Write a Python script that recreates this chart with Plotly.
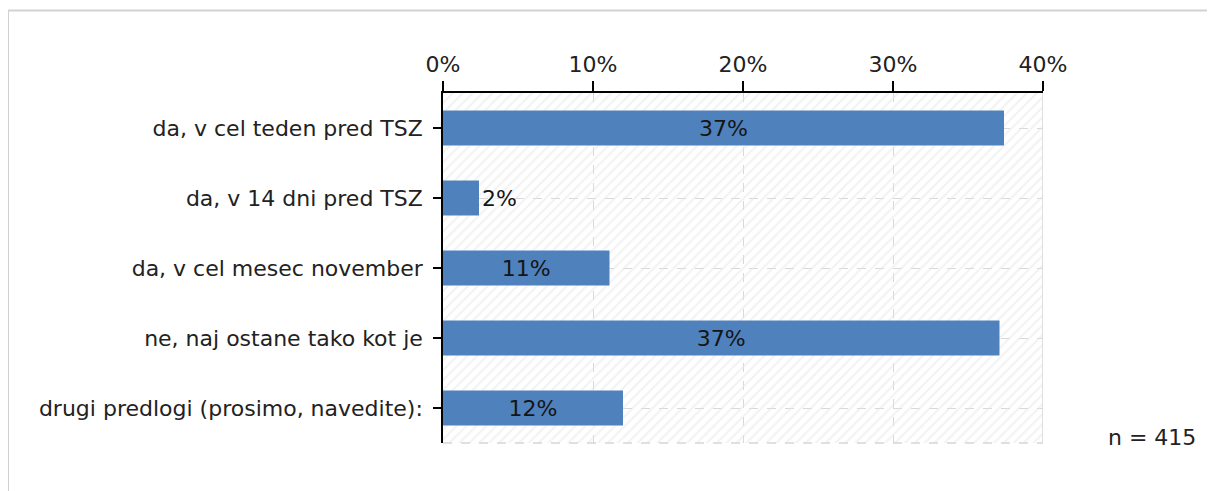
import plotly.graph_objects as go

categories = [
    "da, v cel teden pred TSZ",
    "da, v 14 dni pred TSZ",
    "da, v cel mesec november",
    "ne, naj ostane tako kot je",
    "drugi predlogi (prosimo, navedite):",
]
values = [37.4, 2.4, 11.1, 37.1, 12.0]
value_labels = ["37%", "2%", "11%", "37%", "12%"]
label_positions = ["inside", "outside", "inside", "inside", "inside"]
x_ticks = [0, 10, 20, 30, 40]
x_tick_labels = ["0%", "10%", "20%", "30%", "40%"]
n_text = "n = 415"
x_max = 40

FONT = "DejaVu Sans"
FS = 22
W, H = 1215, 491
OFF = 8  # page body margin offset
# target page coordinates of plot area: x 443..1043, y 93..443
L = 443 - OFF
T = 93 - OFF
R = W - (1043 - OFF)
B = H - (443 - OFF)
pw, ph = W - L - R, H - T - B

def px_x(p):
    return (p - OFF - L) / pw

def px_y(p):
    return (H - B - (p - OFF)) / ph

fig = go.Figure()

# hatched plot background
fig.add_trace(go.Bar(
    x=[x_max] * len(categories), y=categories, orientation="h", width=1,
    marker=dict(color="rgba(0,0,0,0)", line=dict(width=0),
                pattern=dict(shape="/", fgcolor="#e6e6e6", bgcolor="rgba(0,0,0,0)",
                             size=7, solidity=0.3)),
    hoverinfo="skip", showlegend=False,
))

fig.add_trace(go.Bar(
    x=values, y=categories, orientation="h", width=0.5,
    marker=dict(color="#4F81BD", line=dict(width=0)),
    text=value_labels, textposition=label_positions,
    insidetextanchor="middle", constraintext="none",
    textfont=dict(family=FONT, size=FS, color="#151515"),
    cliponaxis=False, showlegend=False,
))

fig.update_layout(
    width=W, height=H,
    margin=dict(l=L, r=R, t=T, b=B),
    paper_bgcolor="white", plot_bgcolor="white",
    barmode="overlay",
    font=dict(family=FONT, size=FS, color="#222222"),
    xaxis=dict(
        side="top", range=[0, x_max], tickvals=x_ticks, ticktext=x_tick_labels,
        showline=True, linecolor="#000000", linewidth=1.5,
        ticks="outside", ticklen=10, tickcolor="#000000", tickwidth=1.5,
        showgrid=True, gridcolor="#d8d8d8", griddash="dash", gridwidth=1,
        zeroline=False, tickfont=dict(size=FS, color="#222222"),
        ticklabelstandoff=0,
    ),
    yaxis=dict(
        categoryorder="array", categoryarray=categories, autorange="reversed",
        showline=True, linecolor="#000000", linewidth=1.5,
        ticks="outside", ticklen=8, tickcolor="#000000", tickwidth=1.5,
        showgrid=True, gridcolor="#d8d8d8", griddash="dash", gridwidth=1,
        tickfont=dict(size=FS, color="#222222"),
        ticklabelstandoff=6,
    ),
    shapes=[
        # outer frame
        dict(type="rect", xref="paper", yref="paper",
             x0=px_x(8), x1=px_x(1260), y0=px_y(540), y1=px_y(10.5),
             line=dict(color="#d2d2d2", width=2), fillcolor="rgba(0,0,0,0)"),
        # right border of plot
        dict(type="line", xref="x", yref="paper", x0=x_max, x1=x_max, y0=0, y1=1,
             line=dict(color="#d6d6d6", width=1.5)),
        # bottom dashed border
        dict(type="line", xref="paper", yref="paper", x0=0, x1=1, y0=0, y1=0,
             line=dict(color="#d6d6d6", width=1.5, dash="dash")),
    ],
    annotations=[
        dict(text=n_text, xref="paper", yref="paper", x=px_x(1106), y=px_y(437),
             xanchor="left", yanchor="middle", showarrow=False,
             font=dict(family=FONT, size=FS, color="#222222")),
    ],
)

fig.write_html("out.html")
